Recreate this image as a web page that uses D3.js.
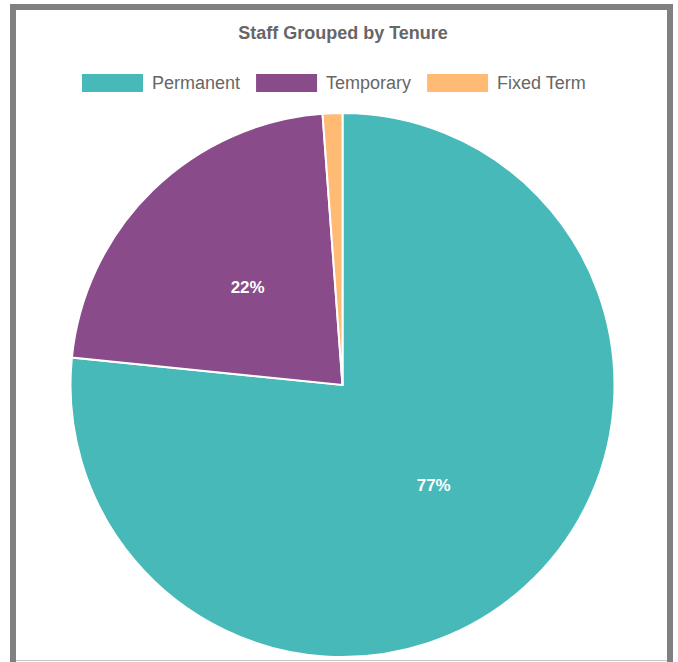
<!DOCTYPE html>
<html>
<head>
<meta charset="utf-8">
<script src="https://cdn.jsdelivr.net/npm/d3@7/dist/d3.min.js"></script>
<style>
  body { margin: 0; background: #fff; }
  svg { display: block; font-family: "Liberation Sans", Arial, sans-serif; }
</style>
</head>
<body>
<div id="chart"></div>
<script>
const labels = ['Permanent', 'Temporary', 'Fixed Term'];
const counts = [131, 38, 2];
const colors = ['#48B9B9', '#8A4B8A', '#FFBA74'];

const width = 678, height = 662;
const cx = 342.5, cy = 385, radius = 272;

const svg = d3.select('#chart').append('svg')
  .attr('width', width)
  .attr('height', height);

// frame
svg.append('rect')
  .attr('x', 13).attr('y', 7)
  .attr('width', 657).attr('height', 665)
  .attr('fill', 'none')
  .attr('stroke', '#808080')
  .attr('stroke-width', 6);
svg.append('line')
  .attr('x1', 16).attr('x2', 667)
  .attr('y1', 660.5).attr('y2', 660.5)
  .attr('stroke', '#c8c8c8')
  .attr('stroke-width', 1);

// title
svg.append('text')
  .attr('x', 343).attr('y', 33)
  .attr('text-anchor', 'middle')
  .attr('dominant-baseline', 'central')
  .attr('font-size', 18)
  .attr('font-weight', 'bold')
  .attr('fill', '#666')
  .text('Staff Grouped by Tenure');

// legend
const legend = svg.append('g');
let lx = 82;
labels.forEach((name, i) => {
  legend.append('rect')
    .attr('x', lx).attr('y', 74)
    .attr('width', 61).attr('height', 18)
    .attr('fill', colors[i]);
  const t = legend.append('text')
    .attr('x', lx + 70).attr('y', 83)
    .attr('dominant-baseline', 'central')
    .attr('font-size', 18)
    .attr('fill', '#666')
    .text(name);
  lx += 70 + t.node().getComputedTextLength() + 16;
});

// pie
const total = d3.sum(counts);
const pie = d3.pie().sort(null).value(d => d);
const arcs = pie(counts);
const arc = d3.arc().innerRadius(0).outerRadius(radius);
const labelArc = d3.arc().innerRadius(radius / 2).outerRadius(radius / 2);

const g = svg.append('g').attr('transform', `translate(${cx},${cy})`);

g.selectAll('path')
  .data(arcs)
  .enter()
  .append('path')
  .attr('d', arc)
  .attr('fill', (d, i) => colors[i])
  .attr('stroke', '#fff')
  .attr('stroke-width', 2);

g.selectAll('text')
  .data(arcs.filter(d => d.data / total > 0.05))
  .enter()
  .append('text')
  .attr('transform', d => `translate(${labelArc.centroid(d)})`)
  .attr('text-anchor', 'middle')
  .attr('dominant-baseline', 'central')
  .attr('font-size', 17)
  .attr('font-weight', 'bold')
  .attr('fill', '#fff')
  .text(d => Math.round(d.data / total * 100) + '%');
</script>
</body>
</html>
